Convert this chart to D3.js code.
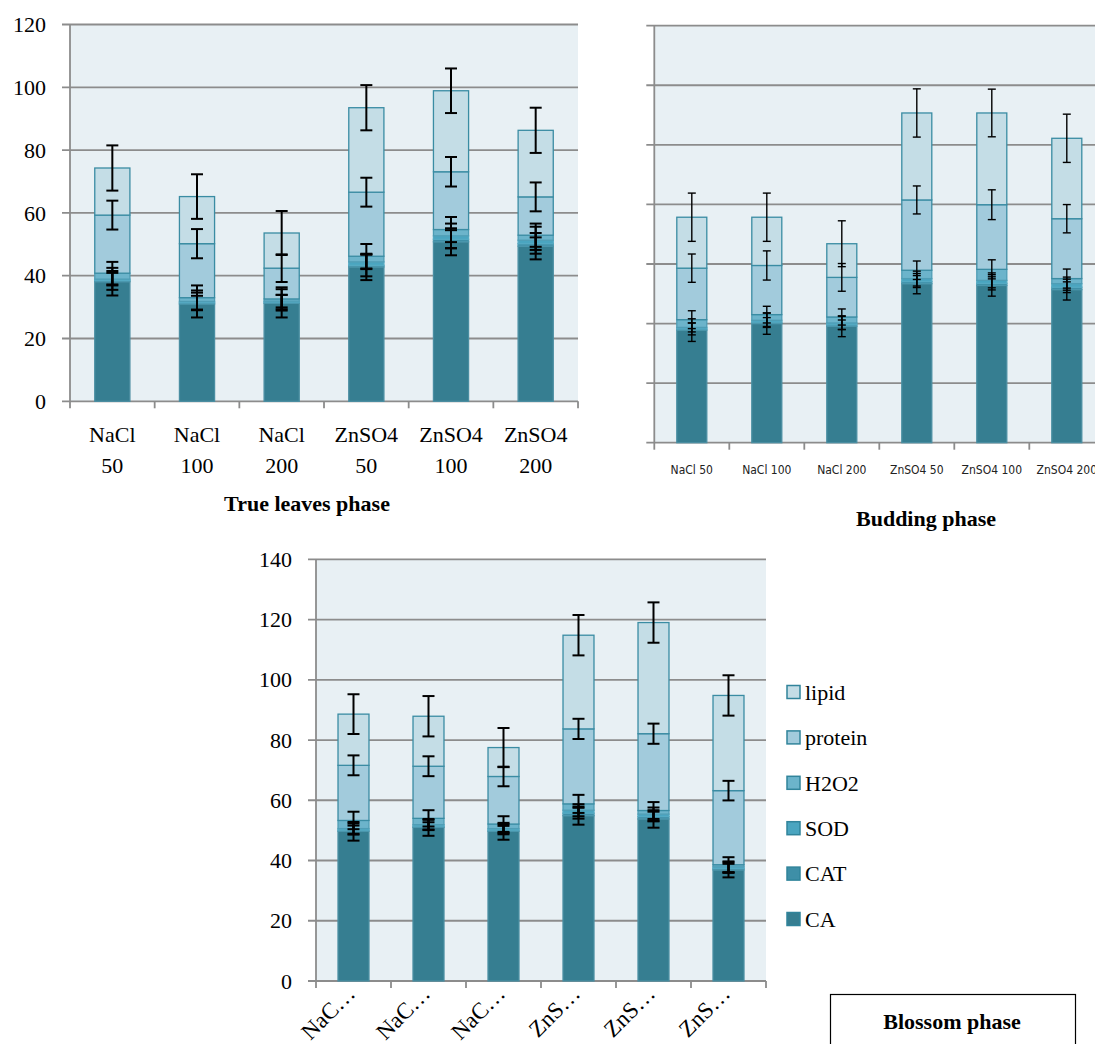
<!DOCTYPE html>
<html><head><meta charset="utf-8">
<script src="https://cdn.jsdelivr.net/npm/d3@7"></script>
<style>body{margin:0;background:#fff}svg{display:block}</style>
</head><body>
<svg id="c" width="1095" height="1044"></svg>
<script>
// ---------- DATA ----------
const categories = ["NaCl 50", "NaCl 100", "NaCl 200", "ZnSO4 50", "ZnSO4 100", "ZnSO4 200"];
const blossomLabels = ["NaC…", "NaC…", "NaC…", "ZnS…", "ZnS…", "ZnS…"];
const seriesNames = ["CA", "CAT", "SOD", "H2O2", "protein", "lipid"];
const legendOrder = ["lipid", "protein", "H2O2", "SOD", "CAT", "CA"];
const yTicksLeaf = [0, 20, 40, 60, 80, 100, 120];
const yTicksBud = [0, 20, 40, 60, 80, 100, 120, 140];
const yTicksBlossom = [0, 20, 40, 60, 80, 100, 120, 140];

// True leaves phase
const leafCA      = [38.1, 31.0, 31.2, 42.8, 50.8, 49.4];
const leafCAT     = [0.4, 0.4, 0.4, 0.5, 0.8, 0.8];
const leafSOD     = [0.4, 0.4, 0.3, 1.1, 1.1, 1.1];
const leafH2O2    = [1.9, 1.2, 0.7, 1.8, 2.0, 1.6];
const leafProtein = [18.5, 17.2, 9.8, 20.4, 18.4, 12.2];
const leafLipid   = [15.0, 15.0, 11.2, 26.9, 25.8, 21.2];
const leafCAErr      = [4.4, 4.3, 4.5, 4.2, 4.3, 4.2];
const leafCATErr     = [3.0, 2.2, 2.3, 3.5, 2.9, 2.0];
const leafSODErr     = [2.0, 2.8, 2.0, 2.3, 3.9, 4.3];
const leafH2O2Err    = [3.6, 3.9, 3.7, 3.9, 4.0, 3.7];
const leafProteinErr = [4.6, 4.65, 4.4, 4.6, 4.7, 4.6];
const leafLipidErr   = [7.2, 7.1, 7.0, 7.2, 7.1, 7.2];

// Budding phase
const budCA      = [37.8, 40.0, 39.1, 53.4, 52.8, 51.4];
const budCAT     = [0.4, 0.5, 0.5, 0.7, 0.7, 0.8];
const budSOD     = [0.5, 0.6, 0.6, 1.0, 1.0, 1.2];
const budH2O2    = [2.6, 1.9, 2.0, 2.8, 3.7, 1.7];
const budProtein = [17.3, 16.5, 13.3, 23.6, 21.7, 20.1];
const budLipid   = [17.1, 16.2, 11.3, 29.2, 30.8, 27.0];
const budCAErr      = [3.8, 3.6, 3.5, 3.4, 3.6, 3.5];
const budCATErr     = [2.0, 1.5, 1.6, 2.0, 2.2, 1.8];
const budSODErr     = [1.5, 2.4, 2.2, 2.5, 2.5, 2.2];
const budH2O2Err    = [3.0, 2.8, 2.7, 3.1, 3.2, 3.2];
const budProteinErr = [4.75, 4.9, 4.65, 4.7, 5.0, 4.75];
const budLipidErr   = [8.1, 8.1, 7.7, 8.1, 8.0, 8.1];

// Blossom phase
const blossomCA      = [49.7, 51.0, 49.7, 54.9, 53.8, 36.9];
const blossomCAT     = [0.4, 0.4, 0.4, 0.8, 0.8, 0.5];
const blossomSOD     = [0.5, 0.5, 0.5, 1.0, 0.8, 0.5];
const blossomH2O2    = [2.7, 2.1, 1.5, 2.1, 1.2, 0.7];
const blossomProtein = [18.3, 17.3, 15.8, 24.9, 25.5, 24.6];
const blossomLipid   = [17.0, 16.6, 9.6, 31.1, 36.9, 31.6];
const blossomCAErr      = [3.1, 2.8, 2.8, 3.0, 2.9, 2.5];
const blossomCATErr     = [1.5, 1.3, 1.4, 1.8, 1.6, 1.5];
const blossomSODErr     = [1.7, 1.6, 1.5, 2.0, 2.2, 1.8];
const blossomH2O2Err    = [2.9, 2.7, 2.6, 3.0, 2.8, 2.5];
const blossomProteinErr = [3.3, 3.3, 3.25, 3.35, 3.35, 3.25];
const blossomLipidErr   = [6.6, 6.7, 6.5, 6.7, 6.7, 6.7];

// ---------- DRAW ----------
const colors = {CA:"#367e91", CAT:"#3e8fa7", SOD:"#4aa5c0", H2O2:"#6cb4cb", protein:"#a2cbdc", lipid:"#c4dde6"};
const strokes = {CA:"#4a8ea2", CAT:"#4b97ad", SOD:"#55aac3", H2O2:"#4f9db5", protein:"#3a8ca3", lipid:"#3a8ca3"};
const GRID = "#8c8c8c";
const SERIF = "Liberation Serif, Times New Roman, serif";
const svg = d3.select("#c");

function buildRows(arrs){
  return categories.map((c,i)=>{
    const r = {cat:c};
    seriesNames.forEach((s,j)=> r[s] = arrs[j][i]);
    return r;
  });
}

function drawChart(o){
  const rows = buildRows(o.values);
  const errRows = buildRows(o.errors);
  const xr = o.x0 + categories.length * o.step;
  const x = d3.scaleBand().domain(categories).range([o.x0, xr]).paddingInner(o.pad).paddingOuter(o.pad/2);
  const y = d3.scaleLinear().domain([0, o.max]).range([o.y1, o.y0]);
  const g = svg.append("g");
  g.append("rect").attr("x", o.x0).attr("y", o.y0).attr("width", xr - o.x0).attr("height", o.y1 - o.y0).attr("fill", "#e8f0f4");
  g.selectAll("line.grid").data(o.ticks).join("line")
    .attr("x1", o.x0 - 8).attr("x2", xr)
    .attr("y1", d=>y(d)).attr("y2", d=>y(d))
    .attr("stroke", GRID).attr("stroke-width", 1.8);
  if (o.yLabels){
    g.selectAll("text.yl").data(o.ticks).join("text")
      .attr("x", o.x0 - 24).attr("y", d=>y(d)).attr("dy", "0.35em")
      .attr("text-anchor", "end").attr("font-family", SERIF).attr("font-size", 22)
      .text(d=>d);
  }
  g.append("line").attr("x1", o.x0).attr("x2", o.x0).attr("y1", o.y0).attr("y2", o.y1).attr("stroke", GRID).attr("stroke-width", 1.8);
  const bounds = d3.range(categories.length + 1).map(i => o.x0 + i * o.step);
  g.selectAll("line.xt").data(bounds).join("line")
    .attr("x1", d=>d).attr("x2", d=>d).attr("y1", o.y1).attr("y2", o.y1 + 7)
    .attr("stroke", GRID).attr("stroke-width", 1.8);
  const stack = d3.stack().keys(seriesNames)(rows);
  stack.forEach(layer=>{
    const key = layer.key;
    g.selectAll(null).data(layer).join("rect")
      .attr("x", d=>x(d.data.cat)).attr("width", x.bandwidth())
      .attr("y", d=>y(d[1])).attr("height", d=>y(d[0]) - y(d[1]))
      .attr("fill", colors[key]).attr("stroke", strokes[key]).attr("stroke-width", 1.3);
  });
  stack.forEach(layer=>{
    const key = layer.key;
    layer.forEach((d,i)=>{
      const e = errRows[i][key];
      const cx = x(d.data.cat) + x.bandwidth()/2;
      const top = y(d[1] + e), bot = y(d[1] - e);
      g.append("line").attr("x1", cx).attr("x2", cx).attr("y1", top).attr("y2", bot)
        .attr("stroke", "#000").attr("stroke-width", o.errW);
      [top, bot].forEach(yy=>{
        g.append("line").attr("x1", cx - o.capW/2).attr("x2", cx + o.capW/2).attr("y1", yy).attr("y2", yy)
          .attr("stroke", "#000").attr("stroke-width", o.errW);
      });
    });
  });
  return {x, y, g};
}

// True leaves phase
const c1 = drawChart({
  x0:70, y0:24.5, y1:401.3, step:84.67, pad:0.585, max:120, ticks:yTicksLeaf, yLabels:true,
  values:[leafCA, leafCAT, leafSOD, leafH2O2, leafProtein, leafLipid],
  errors:[leafCAErr, leafCATErr, leafSODErr, leafH2O2Err, leafProteinErr, leafLipidErr],
  capW:12, errW:2
});
categories.forEach(c=>{
  const parts = c.split(" ");
  const cx = c1.x(c) + c1.x.bandwidth()/2;
  const t = c1.g.append("text").attr("text-anchor","middle").attr("font-family",SERIF).attr("font-size",22);
  t.append("tspan").attr("x", cx).attr("y", 442).text(parts[0]);
  t.append("tspan").attr("x", cx).attr("y", 473).text(parts[1]);
});
svg.append("text").attr("x", 307).attr("y", 511).attr("text-anchor","middle")
  .attr("font-family",SERIF).attr("font-size",22).attr("font-weight","bold").text("True leaves phase");

// Budding phase
const c2 = drawChart({
  x0:654.3, y0:25.7, y1:442.7, step:75, pad:0.6, max:140, ticks:yTicksBud, yLabels:false,
  values:[budCA, budCAT, budSOD, budH2O2, budProtein, budLipid],
  errors:[budCAErr, budCATErr, budSODErr, budH2O2Err, budProteinErr, budLipidErr],
  capW:8, errW:1.4
});
categories.forEach(c=>{
  c2.g.append("text").attr("x", c2.x(c) + c2.x.bandwidth()/2).attr("y", 474)
    .attr("text-anchor","middle").attr("font-family","Liberation Sans Narrow, Arial Narrow, DejaVu Sans Condensed, sans-serif")
    .attr("font-stretch","condensed").attr("font-size",12).attr("fill","#222").text(c);
});
svg.append("text").attr("x", 926).attr("y", 526).attr("text-anchor","middle")
  .attr("font-family",SERIF).attr("font-size",22).attr("font-weight","bold").text("Budding phase");

// Blossom phase
const c3 = drawChart({
  x0:316, y0:559.3, y1:981, step:75, pad:0.587, max:140, ticks:yTicksBlossom, yLabels:true,
  values:[blossomCA, blossomCAT, blossomSOD, blossomH2O2, blossomProtein, blossomLipid],
  errors:[blossomCAErr, blossomCATErr, blossomSODErr, blossomH2O2Err, blossomProteinErr, blossomLipidErr],
  capW:12, errW:2
});
categories.forEach((c,i)=>{
  const cx = c3.x(c) + c3.x.bandwidth()/2 + 3;
  c3.g.append("text").attr("transform", `translate(${cx},${995}) rotate(-45)`)
    .attr("text-anchor","end").attr("font-family",SERIF).attr("font-size",23).text(blossomLabels[i]);
});
const leg = svg.append("g");
legendOrder.forEach((s,i)=>{
  const yy = 692 + i * 45.4;
  leg.append("rect").attr("x", 787).attr("y", yy - 6.5).attr("width", 13).attr("height", 13)
    .attr("fill", colors[s]).attr("stroke", "#31849b").attr("stroke-width", 1.5);
  leg.append("text").attr("x", 805).attr("y", yy).attr("dy","0.35em")
    .attr("font-family",SERIF).attr("font-size",22).text(s);
});
svg.append("rect").attr("x", 830.5).attr("y", 994.5).attr("width", 245).attr("height", 60)
  .attr("fill","#fff").attr("stroke","#000").attr("stroke-width",1.2);
svg.append("text").attr("x", 952).attr("y", 1029).attr("text-anchor","middle")
  .attr("font-family",SERIF).attr("font-size",22).attr("font-weight","bold").text("Blossom phase");
</script>
</body></html>
